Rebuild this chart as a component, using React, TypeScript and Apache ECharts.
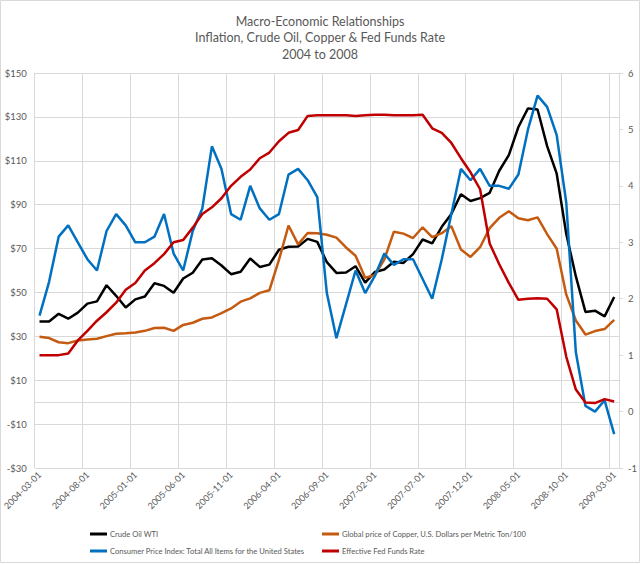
import React, { useEffect, useRef } from "react";
import * as echarts from "echarts";

const months = [
  "2004-03-01", "2004-04-01", "2004-05-01", "2004-06-01", "2004-07-01", "2004-08-01", "2004-09-01", "2004-10-01", "2004-11-01", "2004-12-01",
  "2005-01-01", "2005-02-01", "2005-03-01", "2005-04-01", "2005-05-01", "2005-06-01", "2005-07-01", "2005-08-01", "2005-09-01", "2005-10-01", "2005-11-01", "2005-12-01",
  "2006-01-01", "2006-02-01", "2006-03-01", "2006-04-01", "2006-05-01", "2006-06-01", "2006-07-01", "2006-08-01", "2006-09-01", "2006-10-01", "2006-11-01", "2006-12-01",
  "2007-01-01", "2007-02-01", "2007-03-01", "2007-04-01", "2007-05-01", "2007-06-01", "2007-07-01", "2007-08-01", "2007-09-01", "2007-10-01", "2007-11-01", "2007-12-01",
  "2008-01-01", "2008-02-01", "2008-03-01", "2008-04-01", "2008-05-01", "2008-06-01", "2008-07-01", "2008-08-01", "2008-09-01", "2008-10-01", "2008-11-01", "2008-12-01",
  "2009-01-01", "2009-02-01", "2009-03-01",
];

// Left axis ($)
const crudeOilWTI = [
  36.74, 36.75, 40.28, 38.03, 40.78, 44.9, 45.94, 53.28, 48.47, 43.15,
  46.84, 48.15, 54.19, 52.98, 49.83, 56.35, 59.0, 64.99, 65.59, 62.26, 58.32, 59.41,
  65.49, 61.63, 62.69, 69.44, 70.84, 70.95, 74.41, 73.04, 63.8, 58.89, 59.08, 61.96,
  54.51, 59.28, 60.44, 63.98, 63.46, 67.49, 74.12, 72.36, 79.92, 85.8, 94.77, 91.69,
  92.97, 95.39, 105.45, 112.58, 125.4, 133.88, 133.37, 116.67, 104.11, 76.61, 57.31, 41.12,
  41.71, 39.09, 47.94,
];

const copperPer100 = [
  29.8, 29.2, 27.3, 26.9, 28.1, 28.6, 28.9, 30.1, 31.2, 31.4,
  31.7, 32.5, 33.8, 33.9, 32.5, 35.2, 36.2, 38.0, 38.6, 40.6, 42.7, 45.8,
  47.3, 49.8, 51.0, 64.8, 80.5, 71.9, 77.1, 77.0, 76.3, 75.0, 70.5, 66.7,
  56.7, 57.9, 65.0, 77.7, 76.8, 74.8, 79.7, 75.2, 77.0, 80.2, 69.6, 66.2,
  70.6, 79.3, 84.0, 87.0, 83.8, 82.9, 84.2, 76.6, 69.9, 49.0, 37.2, 30.8,
  32.4, 33.3, 37.5,
];

// Right axis (%)
const cpiYoY = [
  1.7, 2.3, 3.1, 3.3, 3.0, 2.7, 2.5, 3.2, 3.5, 3.3,
  3.0, 3.0, 3.1, 3.5, 2.8, 2.5, 3.2, 3.6, 4.7, 4.3, 3.5, 3.4,
  4.0, 3.6, 3.4, 3.5, 4.2, 4.3, 4.1, 3.8, 2.1, 1.3, 1.9, 2.5,
  2.1, 2.4, 2.8, 2.6, 2.7, 2.7, 2.35, 2.0, 2.7, 3.5, 4.3, 4.1,
  4.3, 4.0, 4.0, 3.95, 4.2, 5.0, 5.6, 5.4, 4.9, 3.7, 1.05, 0.1,
  0.0, 0.2, -0.4,
];

const fedFundsRate = [
  1.0, 1.0, 1.0, 1.03, 1.26, 1.43, 1.61, 1.76, 1.93, 2.16,
  2.28, 2.5, 2.63, 2.79, 3.0, 3.04, 3.26, 3.5, 3.62, 3.78, 4.0, 4.16,
  4.29, 4.49, 4.59, 4.79, 4.94, 4.99, 5.24, 5.25, 5.25, 5.25, 5.25, 5.24,
  5.25, 5.26, 5.26, 5.25, 5.25, 5.25, 5.26, 5.02, 4.94, 4.76, 4.49, 4.24,
  3.94, 2.98, 2.61, 2.28, 1.98, 2.0, 2.01, 2.0, 1.81, 0.97, 0.39, 0.16,
  0.15, 0.22, 0.18,
];

const seriesNames = [
  "Crude Oil WTI",
  "Global price of Copper, U.S. Dollars per Metric Ton/100",
  "Consumer Price Index: Total All Items for the United States",
  "Effective Fed Funds Rate",
];
const seriesColors = ["#000000", "#C55A11", "#0070C0", "#C00000"];

const titleLines = [
  "Macro-Economic Relationships",
  "Inflation, Crude Oil, Copper & Fed Funds Rate",
  "2004 to 2008",
];

const FONT = "Lato, 'Liberation Sans', sans-serif";
const TEXT = "#595959";
const GRID = "#d9d9d9";

export default function App() {
  const ref = useRef<HTMLDivElement>(null);

  useEffect(() => {
    if (!ref.current) return;
    const chart = echarts.init(ref.current, null, { renderer: "svg" });

    const legendPos = [
      { left: 90, top: 530 },
      { left: 322, top: 530 },
      { left: 90, top: 547 },
      { left: 322, top: 547 },
    ];

    const option: any = {
      animation: false,
      backgroundColor: "#ffffff",
      textStyle: { fontFamily: FONT },
      title: {
        text: titleLines.join("\n"),
        left: "center",
        top: 8,
        textStyle: { fontFamily: FONT, fontSize: 12.5, fontWeight: "normal", color: TEXT, lineHeight: 16.5 },
      },
      legend: seriesNames.map((name, i) => ({
        data: [name],
        left: legendPos[i].left,
        top: legendPos[i].top,
        padding: 0,
        icon: "rect",
        itemWidth: 17,
        itemHeight: 3,
        selectedMode: false,
        textStyle: { fontFamily: FONT, fontSize: 7.6, color: TEXT, padding: [0, 0, 0, -2] },
      })),
      grid: { left: 31, right: 19, top: 73, bottom: 96 },
      xAxis: [
        {
          type: "category",
          data: months,
          boundaryGap: true,
          axisLine: { show: false },
          axisTick: { show: false },
          axisLabel: { interval: 4, rotate: 45, margin: 5, fontSize: 9, color: TEXT, fontFamily: FONT },
          splitLine: { show: true, interval: 4, lineStyle: { color: GRID, width: 1 } },
        },
        {
          // horizontal axis line crossing the left value axis at $0
          type: "category",
          data: months,
          boundaryGap: true,
          position: "bottom",
          axisLine: { show: true, onZero: true, onZeroAxisIndex: 0, lineStyle: { color: GRID, width: 1 } },
          axisTick: { show: false },
          axisLabel: { show: false },
          splitLine: { show: false },
        },
      ],
      yAxis: [
        {
          type: "value",
          min: -30,
          max: 150,
          interval: 20,
          axisLine: { show: false },
          axisTick: { show: false },
          splitLine: { show: true, lineStyle: { color: GRID, width: 1 } },
          axisLabel: {
            margin: 8, fontSize: 9.5, color: TEXT, fontFamily: FONT,
            formatter: (v: number) => (v < 0 ? "-$" + Math.abs(v) : "$" + v),
          },
        },
        {
          type: "value",
          min: -1,
          max: 6,
          interval: 1,
          position: "right",
          axisLine: { show: true, lineStyle: { color: GRID, width: 1 } },
          axisTick: { show: true, length: 4, inside: false, lineStyle: { color: GRID } },
          splitLine: { show: false },
          axisLabel: { margin: 9, fontSize: 9.5, color: TEXT, fontFamily: FONT },
        },
      ],
      series: [
        {
          name: seriesNames[0], type: "line", xAxisIndex: 0, yAxisIndex: 0, data: crudeOilWTI, symbol: "none",
          lineStyle: { width: 2.5, color: seriesColors[0] }, itemStyle: { color: seriesColors[0] }, z: 3,
        },
        {
          name: seriesNames[1], type: "line", xAxisIndex: 0, yAxisIndex: 0, data: copperPer100, symbol: "none",
          lineStyle: { width: 2.5, color: seriesColors[1] }, itemStyle: { color: seriesColors[1] }, z: 3,
        },
        {
          name: seriesNames[2], type: "line", xAxisIndex: 0, yAxisIndex: 1, data: cpiYoY, symbol: "none",
          lineStyle: { width: 2.5, color: seriesColors[2] }, itemStyle: { color: seriesColors[2] }, z: 3,
        },
        {
          name: seriesNames[3], type: "line", xAxisIndex: 0, yAxisIndex: 1, data: fedFundsRate, symbol: "none",
          lineStyle: { width: 2.5, color: seriesColors[3] }, itemStyle: { color: seriesColors[3] }, z: 3,
        },
      ],
      graphic: [
        {
          type: "rect",
          shape: { x: 0.5, y: 0.5, width: 639, height: 562 },
          style: { fill: "none", stroke: GRID, lineWidth: 1 },
          silent: true,
          z: -1,
        },
      ],
    };

    chart.setOption(option);
    return () => chart.dispose();
  }, []);

  return <div ref={ref} style={{ position: "absolute", left: 0, top: 0, width: 640, height: 564 }} />;
}
